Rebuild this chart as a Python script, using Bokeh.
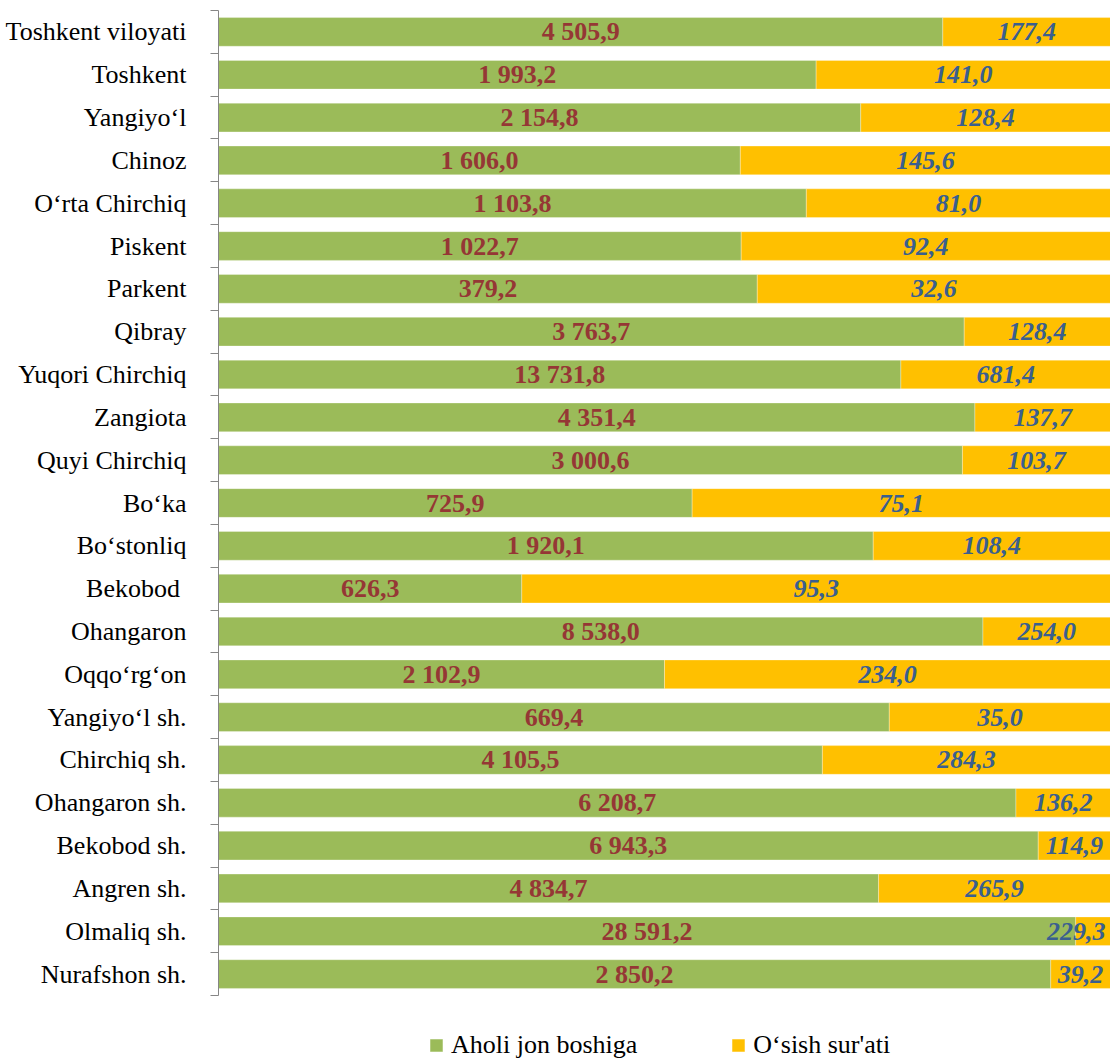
from bokeh.plotting import figure
from bokeh.models import Range1d, FixedTicker, ColumnDataSource, Legend, LegendItem
from bokeh.core.properties import value
from bokeh.embed import file_html
from bokeh.resources import INLINE

categories = ["Toshkent viloyati", "Toshkent", "Yangiyo\u2018l", "Chinoz", "O\u2018rta Chirchiq",
              "Piskent", "Parkent", "Qibray", "Yuqori Chirchiq", "Zangiota", "Quyi Chirchiq",
              "Bo\u2018ka", "Bo\u2018stonliq", "Bekobod ", "Ohangaron", "Oqqo\u2018rg\u2018on",
              "Yangiyo\u2018l sh.", "Chirchiq sh.", "Ohangaron sh.", "Bekobod sh.", "Angren sh.",
              "Olmaliq sh.", "Nurafshon sh."]
aholi = [4505.9, 1993.2, 2154.8, 1606.0, 1103.8, 1022.7, 379.2, 3763.7, 13731.8, 4351.4,
         3000.6, 725.9, 1920.1, 626.3, 8538.0, 2102.9, 669.4, 4105.5, 6208.7, 6943.3,
         4834.7, 28591.2, 2850.2]
osish = [177.4, 141.0, 128.4, 145.6, 81.0, 92.4, 32.6, 128.4, 681.4, 137.7, 103.7, 75.1,
         108.4, 95.3, 254.0, 234.0, 35.0, 284.3, 136.2, 114.9, 265.9, 229.3, 39.2]
# share of the bar taken by the green segment
green_share = [0.812, 0.670, 0.720, 0.585, 0.659, 0.586, 0.604, 0.836, 0.765, 0.848, 0.834,
               0.531, 0.734, 0.340, 0.857, 0.500, 0.752, 0.677, 0.894, 0.919, 0.740, 0.961, 0.933]

n = len(categories)
ys = [n - 0.5 - i for i in range(n)]


def fmt(v):
    return f"{v:,.1f}".replace(",", " ").replace(".", ",")


FONT = "Liberation Serif"
GREEN = "#9BBB59"
YELLOW = "#FFC000"

y2_x, y2_align, y2_off = [], [], []
for s in green_share:
    if 1 - s < 0.05:
        y2_x.append(1.0)
        y2_align.append("right")
        y2_off.append(-5)
    else:
        y2_x.append((s + 1) / 2)
        y2_align.append("center")
        y2_off.append(0)

src = ColumnDataSource(dict(
    y=ys, zero=[0] * n, share=green_share, one=[1] * n,
    gx=[s / 2 for s in green_share], glab=[fmt(v) for v in aholi],
    yx=y2_x, yalign=y2_align, yoff=y2_off, ylab=[fmt(v) for v in osish],
))

ROW_PX = 985 / n          # pixel height of one category band
BOTTOM_PX = 65            # room under the bars for the legend

p = figure(width=1110, height=1060, output_backend="svg", toolbar_location=None,
           x_range=Range1d(0, 1), y_range=Range1d(-BOTTOM_PX / ROW_PX, n),
           x_axis_location=None,
           min_border_left=218, min_border_right=0, min_border_top=10, min_border_bottom=0)
p.outline_line_color = None
p.grid.visible = False
p.background_fill_color = "white"

r1 = p.hbar(y="y", left="zero", right="share", height=0.67, source=src,
            fill_color=GREEN, line_color="white", line_width=0.6, line_alpha=0.5)
r2 = p.hbar(y="y", left="share", right="one", height=0.67, source=src,
            fill_color=YELLOW, line_color="white", line_width=0.6, line_alpha=0.5)

p.text(x="gx", y="y", text="glab", source=src, text_align="center", text_baseline="middle",
       text_font=value(FONT), text_font_size="26px", text_font_style="bold",
       text_color="#953735")
p.text(x="yx", y="y", text="ylab", source=src, text_align="yalign", text_baseline="middle",
       x_offset="yoff", text_font=value(FONT), text_font_size="26px",
       text_font_style="bold italic", text_color="#3A5F8F")

ax = p.yaxis[0]
ax.bounds = (0, n)
ax.ticker = FixedTicker(ticks=ys, minor_ticks=list(range(n + 1)))
ax.major_label_overrides = {y: c for y, c in zip(ys, categories)}
ax.major_label_text_font = FONT
ax.major_label_text_font_size = "26px"
ax.major_label_text_color = "black"
ax.major_label_standoff = 24
ax.major_tick_out = 0
ax.major_tick_in = 0
ax.minor_tick_out = 8
ax.minor_tick_in = 0
ax.axis_line_color = "#868686"
ax.minor_tick_line_color = "#868686"

legend = Legend(items=[LegendItem(label="Aholi jon boshiga", renderers=[r1]),
                       LegendItem(label="O\u2018sish sur'ati", renderers=[r2])],
                orientation="horizontal", location=(210, 0),
                label_text_font=FONT, label_text_font_size="26px",
                label_text_color="black", glyph_width=16, glyph_height=16,
                label_standoff=7, spacing=93, padding=0, margin=0,
                border_line_color=None, background_fill_alpha=0, label_height=26)
p.add_layout(legend, "center")

open("out.html", "w").write(file_html(p, INLINE))
